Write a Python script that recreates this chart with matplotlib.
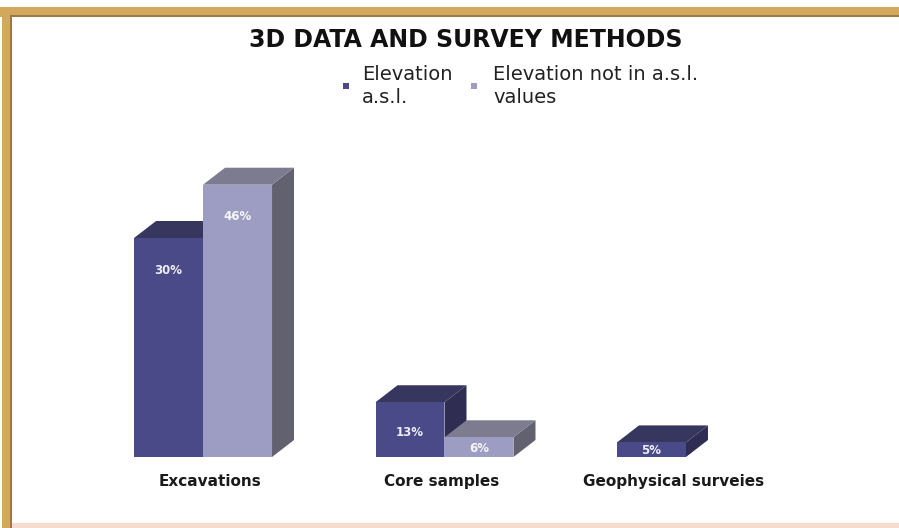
import matplotlib
matplotlib.use("Agg")
import numpy as np
import matplotlib.pyplot as plt
from matplotlib.patches import Polygon, Rectangle

# data
categories = ['Excavations', 'Core samples', 'Geophysical surveies']
series_names = ['Elevation\na.s.l.', 'Elevation not in a.s.l.\nvalues']
# drawn heights of the bars (the picture is not to scale with its labels)
asl_heights = [30, 7.5, 2.0]
not_asl_heights = [37.3, 2.7, 0]
asl_labels = ['30%', '13%', '5%']
not_asl_labels = ['46%', '6%', '']

# colours: front, top, side
dark = ('#4b4a88', '#37365f', '#2f2e52')
light = ('#9d9cc2', '#7c7b8f', '#62616f')

W, H = 899, 528
fig = plt.figure(figsize=(W / 100, H / 100), dpi=100)
fig.patch.set_facecolor('white')

# axes placed so one group step is ~241 px, one unit ~7.3 px
base_px = 457
ax = fig.add_axes([34 / W, (H - base_px) / H, 821 / W, 365 / H])
ax.set_xlim(-0.7, 2.7)
ax.set_ylim(0, 50)
ax.axis('off')

bw = 69 / 241.5          # bar width in group units
dx = 22 / 241.5          # depth offset x
dy = 17 / 7.3            # depth offset y


def bar3d(x0, h, cols, label):
    if h <= 0:
        return
    x1 = x0 + bw
    front = Polygon([(x0, 0), (x1, 0), (x1, h), (x0, h)], closed=True,
                    facecolor=cols[0], edgecolor='none')
    top = Polygon([(x0, h), (x1, h), (x1 + dx, h + dy), (x0 + dx, h + dy)],
                  closed=True, facecolor=cols[1], edgecolor='none')
    side = Polygon([(x1, 0), (x1 + dx, dy), (x1 + dx, h + dy), (x1, h)],
                   closed=True, facecolor=cols[2], edgecolor='none')
    for p in (side, top, front):
        ax.add_patch(p)
    ly = h - min(4.4, h * 0.55)
    ax.text(x0 + bw / 2, ly, label, ha='center', va='center', color='white',
            fontsize=8.5, fontweight='bold', alpha=0.9)


for i in range(len(categories)):
    bar3d(i - bw, asl_heights[i], dark, asl_labels[i])
    bar3d(i, not_asl_heights[i], light, not_asl_labels[i])

for i, c in enumerate(categories):
    ax.text(i * 0.96 + 0.03, -3.4, c, ha='center', va='center', fontsize=11,
            fontweight='bold', color='#1a1a1a', clip_on=False)

# title
fig.text(466 / W, 1 - 40 / H, '3D DATA AND SURVEY METHODS', ha='center',
         va='center', fontsize=17, fontweight='bold', color='#111111')

# hand made legend
for (mx, tx), name, cols in zip([(346, 362), (474, 493)], series_names,
                                [dark, light]):
    fig.add_artist(Rectangle((mx - 3, H - 86 - 3), 6, 6, transform=None,
                             facecolor=cols[0], edgecolor='none'))
    fig.text(tx / W, 1 - 86 / H, name, ha='left', va='center', fontsize=14,
             color='#222222', linespacing=1.25)

# tan frame on top and left, pale line at the bottom
fig.add_artist(Rectangle((0, H - 17), W, 10, transform=None,
                         facecolor='#d2a95c', edgecolor='none'))
fig.add_artist(Rectangle((2, 0), 10, H - 7, transform=None,
                         facecolor='#d2a95c', edgecolor='none'))
fig.add_artist(Rectangle((10, 0), 2, H - 15, transform=None,
                         facecolor='#9a7a3e', edgecolor='none'))
fig.add_artist(Rectangle((10, H - 17), W - 10, 2, transform=None,
                         facecolor='#9a7a3e', edgecolor='none'))
fig.add_artist(Rectangle((12, 0), W - 12, 5, transform=None,
                         facecolor='#f6dccf', edgecolor='none'))

fig.savefig('out.png', dpi=100, facecolor='white')
